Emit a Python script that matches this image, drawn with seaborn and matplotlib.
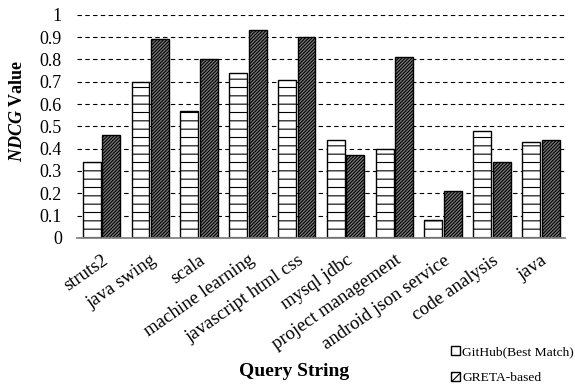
import numpy as np
import pandas as pd
import seaborn as sns
import matplotlib.pyplot as plt

sns.set_theme(style="white")
plt.rcParams["font.family"] = ["Liberation Serif", "DejaVu Serif"]
plt.rcParams["mathtext.fontset"] = "custom"
plt.rcParams["mathtext.rm"] = "Liberation Serif"
plt.rcParams["mathtext.bfit"] = "Liberation Serif:bold:italic"
plt.rcParams["hatch.linewidth"] = 0.8
for k in ["text.color", "axes.labelcolor", "xtick.color", "ytick.color"]:
    plt.rcParams[k] = "black"

queries = ["struts2", "java swing", "scala", "machine learning", "javascript html css",
           "mysql jdbc", "project management", "android json service", "code analysis", "java"]
github = [0.34, 0.70, 0.57, 0.74, 0.71, 0.44, 0.40, 0.08, 0.48, 0.43]
greta = [0.46, 0.89, 0.80, 0.93, 0.90, 0.37, 0.81, 0.21, 0.34, 0.44]
series = ["GitHub(Best Match)", "GRETA-based"]

data = pd.DataFrame({
    "query": queries * 2,
    "value": github + greta,
    "method": [series[0]] * len(queries) + [series[1]] * len(queries),
})

fig = plt.figure(figsize=(5.75, 3.9), dpi=100)
ax = fig.add_axes([0.134, 0.39, 0.849, 0.572])

sns.barplot(data=data, x="query", y="value", hue="method", ax=ax,
            palette=["white", "#7a7a7a"], width=0.8, gap=0.08,
            edgecolor="black", linewidth=1.0, legend=False)

hatches = ["--", "//////////"]
for cont, h in zip(ax.containers, hatches):
    for bar in cont:
        bar.set_hatch(h)
        bar.set_edgecolor("black")

ax.set_ylim(0, 1)
ax.set_yticks(np.arange(0, 1.01, 0.1))
ax.set_yticklabels(["0"] + [f"{v:.1f}" for v in np.arange(0.1, 0.95, 0.1)] + ["1"], fontsize=13)
ax.yaxis.grid(True, linestyle=(0, (4, 3)), color="black", linewidth=0.8)
ax.set_axisbelow(True)
ax.set_xlim(-0.5, len(queries) - 0.5)
for s in ["top", "right", "left"]:
    ax.spines[s].set_visible(False)
ax.spines["bottom"].set_color("#808080")
ax.tick_params(axis="y", length=0, pad=11)
ax.tick_params(axis="x", length=0, pad=10)
ax.set_xticks(range(len(queries)))
ax.set_xticklabels(queries, rotation=35, ha="right", rotation_mode="anchor", fontsize=13.5)
ax.set_xlabel("")
ax.set_ylabel(r"$\mathbfit{NDCG}$ Value", fontsize=13, fontweight="bold")
ax.yaxis.set_label_coords(-0.104, 0.57)

fig.text(0.511, 0.035, "Query String", ha="center", fontsize=14, fontweight="bold")

handles = [plt.Rectangle((0, 0), 1, 1, facecolor="white", edgecolor="black", hatch=h) for h in ["", "////"]]
fig.legend(handles, series, loc="upper left", bbox_to_anchor=(0.772, 0.13),
           frameon=False, fontsize=9.7, handlelength=0.7, handleheight=0.7,
           handletextpad=0.15, labelspacing=1.0, borderpad=0)

fig.savefig("out.png", dpi=100)
